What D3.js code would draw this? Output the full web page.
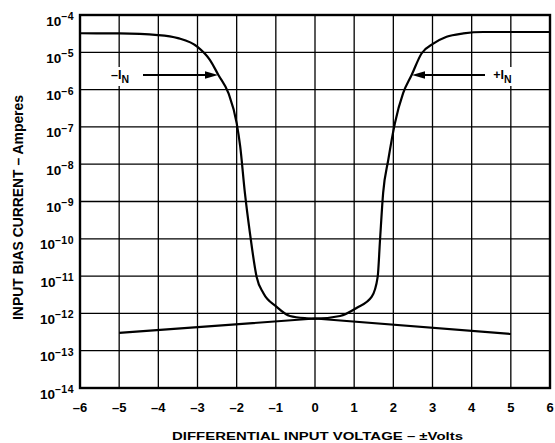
<!DOCTYPE html>
<html>
<head>
<meta charset="utf-8">
<script src="https://cdn.jsdelivr.net/npm/d3@7"></script>
<style>
  html, body { margin: 0; padding: 0; background: #fff; }
  svg text { font-family: "Liberation Sans", Arial, Helvetica, sans-serif; font-weight: bold; fill: #000; }
</style>
</head>
<body>
<svg id="chart" width="555" height="443"></svg>
<script>
// Differential input voltage (V) and input bias current (A) for the ±I_N curve
const curveVolts = [-6, -5, -4.01, -3.5, -3.0, -2.68, -2.47, -2.21, -2.0, -1.91, -1.79, -1.66, -1.49, -1.32, -0.98, -0.64, -0.21, 0,
                    0.64, 1.06, 1.45, 1.60, 1.66, 1.74, 1.87, 2.04, 2.25, 2.47, 2.72, 3.02, 3.36, 3.79, 4.30, 6];
const curveAmps  = [3.24e-5, 3.2e-5, 2.9e-5, 2.4e-5, 1.4e-5, 6.2e-6, 2.5e-6, 8e-7, 1.26e-7, 3.0e-8, 1.7e-9, 1.4e-10, 9.5e-12, 3.5e-12, 1.5e-12, 8.5e-13, 7.4e-13, 7.2e-13,
                    8.5e-13, 1.4e-12, 2.8e-12, 9.5e-12, 9.3e-11, 1.7e-9, 1.3e-8, 1.26e-7, 8e-7, 2.5e-6, 9.3e-6, 1.7e-5, 2.6e-5, 3.2e-5, 3.5e-5, 3.5e-5];

// Low-voltage leakage line
const leakVolts = [-5, 0, 5];
const leakAmps  = [3.0e-13, 7.3e-13, 2.8e-13];

// Axis ticks
const xTicks = [-6, -5, -4, -3, -2, -1, 0, 1, 2, 3, 4, 5, 6];
const yExponents = [-4, -5, -6, -7, -8, -9, -10, -11, -12, -13, -14];

const svg = d3.select("#chart");
const plot = { left: 80, right: 550, top: 15, bottom: 388 };

const x = d3.scaleLinear().domain([-6, 6]).range([plot.left, plot.right]);
const y = d3.scaleLog().domain([1e-14, 1e-4]).range([plot.bottom, plot.top]);

// Grid
const grid = svg.append("g").attr("stroke", "#000").attr("stroke-width", 1.3);
grid.selectAll("line.v").data(xTicks).join("line")
  .attr("x1", d => x(d)).attr("x2", d => x(d))
  .attr("y1", plot.top).attr("y2", plot.bottom);
grid.selectAll("line.h").data(yExponents).join("line")
  .attr("x1", plot.left).attr("x2", plot.right)
  .attr("y1", d => y(Math.pow(10, d))).attr("y2", d => y(Math.pow(10, d)));

// Frame
svg.append("rect")
  .attr("x", plot.left).attr("y", plot.top)
  .attr("width", plot.right - plot.left).attr("height", plot.bottom - plot.top)
  .attr("fill", "none").attr("stroke", "#000").attr("stroke-width", 2.4);

// X tick labels
svg.append("g").selectAll("text").data(xTicks).join("text")
  .attr("x", d => x(d)).attr("y", 412)
  .attr("text-anchor", "middle").attr("font-size", 13)
  .text(d => d < 0 ? "\u2013" + Math.abs(d) : String(d));

// Y tick labels: 10 with a superscript exponent
const yl = svg.append("g").selectAll("text").data(yExponents).join("text")
  .attr("x", 74).attr("y", d => y(Math.pow(10, d)) + 10.5)
  .attr("text-anchor", "end");
yl.append("tspan").attr("font-size", 13.5).text("10");
yl.append("tspan").attr("font-size", 10.5).attr("dy", -5.6).attr("letter-spacing", 0.5)
  .text(d => "\u2013" + Math.abs(d));

// Axis titles
svg.append("text")
  .attr("x", 172).attr("y", 439.5).attr("font-size", 11.5)
  .attr("textLength", 291).attr("lengthAdjust", "spacingAndGlyphs")
  .text("DIFFERENTIAL INPUT VOLTAGE \u2013  \u00B1Volts");
svg.append("text")
  .attr("transform", "translate(23,320) rotate(-90)")
  .attr("font-size", 14.5)
  .attr("textLength", 225).attr("lengthAdjust", "spacingAndGlyphs")
  .text("INPUT BIAS CURRENT \u2013 Amperes");

// Curves
const line = d3.line().x(d => x(d[0])).y(d => y(d[1]));
svg.append("path")
  .datum(d3.zip(curveVolts, curveAmps))
  .attr("d", line.curve(d3.curveMonotoneX))
  .attr("fill", "none").attr("stroke", "#000").attr("stroke-width", 2.2);
svg.append("path")
  .attr("d", d3.line().x(d => x(d[0])).y(d => y(d[1]))(d3.zip(leakVolts, leakAmps)))
  .attr("fill", "none").attr("stroke", "#000").attr("stroke-width", 2.2);

// Curve labels with arrows
const arrowY = 75;
function label(text, cx, lineFrom, tip) {
  const g = svg.append("g");
  const bg = g.append("rect").attr("fill", "#fff");
  const t = g.append("text").attr("x", cx).attr("y", 79).attr("text-anchor", "middle").attr("font-size", 12.5);
  t.append("tspan").text(text);
  t.append("tspan").attr("dy", 4).attr("font-size", 10.5).text("N");
  const bb = t.node().getBBox();
  bg.attr("x", bb.x - 2).attr("y", bb.y - 1).attr("width", bb.width + 4).attr("height", bb.height + 2);
  const dir = Math.sign(tip - lineFrom);
  svg.append("line").attr("x1", lineFrom).attr("x2", tip - dir * 10)
    .attr("y1", arrowY).attr("y2", arrowY).attr("stroke", "#000").attr("stroke-width", 1.8);
  svg.append("path")
    .attr("d", `M${tip},${arrowY} L${tip - dir * 13},${arrowY - 3.8} L${tip - dir * 13},${arrowY + 3.8} Z`)
    .attr("fill", "#000");
}
label("\u2013I", 120, 143, 218);
label("+I", 502.5, 485, 412);
</script>
</body>
</html>
